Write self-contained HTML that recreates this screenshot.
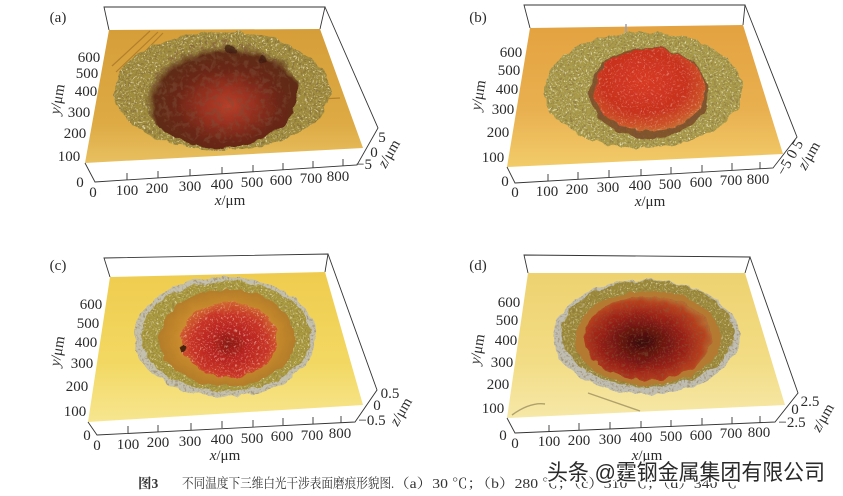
<!DOCTYPE html>
<html><head><meta charset="utf-8"><style>
html,body{margin:0;padding:0;background:#fff;}
svg{display:block;}
.t{font-family:"Liberation Serif","Noto Serif CJK SC",serif;font-size:15px;fill:#2b2b2b;}
.c{font-family:"Liberation Serif","Noto Serif CJK SC",serif;font-size:13.5px;fill:#333;}
.w{font-family:"Liberation Sans","Noto Sans CJK SC",sans-serif;font-size:22px;fill:#2a2a2a;stroke:#fff;stroke-width:3px;paint-order:stroke;}
.ln{stroke:#333;stroke-width:0.9;fill:none;}
</style></head><body>
<svg width="843" height="496" viewBox="0 0 843 496" xmlns="http://www.w3.org/2000/svg">
<defs>
<filter id="rough" x="-10%" y="-10%" width="120%" height="120%">
<feTurbulence type="fractalNoise" baseFrequency="0.09" numOctaves="2" seed="4" result="t"/>
<feDisplacementMap in="SourceGraphic" in2="t" scale="7" xChannelSelector="R" yChannelSelector="G"/>
</filter>
<filter id="spL" x="0" y="0" width="100%" height="100%">
<feTurbulence type="fractalNoise" baseFrequency="0.55" numOctaves="2" seed="7"/>
<feColorMatrix type="matrix" values="0 0 0 0 1  0 0 0 0 0.96  0 0 0 0 0.78  5 0 0 0 -2.8"/>
<feComposite in2="SourceAlpha" operator="in"/>
</filter>
<filter id="spD" x="0" y="0" width="100%" height="100%">
<feTurbulence type="fractalNoise" baseFrequency="0.5" numOctaves="2" seed="11"/>
<feColorMatrix type="matrix" values="0 0 0 0 0.22  0 0 0 0 0.14  0 0 0 0 0.05  0 5 0 0 -2.6"/>
<feComposite in2="SourceAlpha" operator="in"/>
</filter>
<filter id="spD2" x="0" y="0" width="100%" height="100%">
<feTurbulence type="fractalNoise" baseFrequency="0.18" numOctaves="3" seed="21"/>
<feColorMatrix type="matrix" values="0 0 0 0 0.2  0 0 0 0 0.08  0 0 0 0 0.04  0 0 5 0 -2.4"/>
<feComposite in2="SourceAlpha" operator="in"/>
</filter>
<linearGradient id="pa" x1="0" y1="0" x2="0" y2="1"><stop offset="0" stop-color="#d69e38"/><stop offset="0.7" stop-color="#ddaa44"/><stop offset="1" stop-color="#e8c060"/></linearGradient>
<linearGradient id="pb" x1="0" y1="0" x2="0" y2="1"><stop offset="0" stop-color="#e4a240"/><stop offset="0.6" stop-color="#e9b050"/><stop offset="1" stop-color="#f2cc6a"/></linearGradient>
<linearGradient id="pc" x1="0" y1="0" x2="0" y2="1"><stop offset="0" stop-color="#efcc4e"/><stop offset="0.6" stop-color="#f2d862"/><stop offset="1" stop-color="#f7e690"/></linearGradient>
<linearGradient id="pd" x1="0" y1="0" x2="0" y2="1"><stop offset="0" stop-color="#eed270"/><stop offset="0.6" stop-color="#f2dc84"/><stop offset="1" stop-color="#f6e8a8"/></linearGradient>
<radialGradient id="ra" cx="0.55" cy="0.62" r="0.55"><stop offset="0" stop-color="#b8402a"/><stop offset="0.3" stop-color="#983020"/><stop offset="0.6" stop-color="#6a2616"/><stop offset="0.85" stop-color="#5e2c16"/><stop offset="1" stop-color="#7a6a30" stop-opacity="0"/></radialGradient>
<radialGradient id="rb" cx="0.45" cy="0.4" r="0.62"><stop offset="0" stop-color="#d83a24"/><stop offset="0.6" stop-color="#c8321e"/><stop offset="0.88" stop-color="#cc5228"/><stop offset="1" stop-color="#c87034"/></radialGradient>
<radialGradient id="oc" cx="0.5" cy="0.5" r="0.5"><stop offset="0.6" stop-color="#d0902e"/><stop offset="1" stop-color="#b47c2a"/></radialGradient>
<radialGradient id="rc" cx="0.5" cy="0.55" r="0.55"><stop offset="0" stop-color="#8a1a14"/><stop offset="0.35" stop-color="#b82420"/><stop offset="0.72" stop-color="#c83426"/><stop offset="1" stop-color="#d06a30"/></radialGradient>
<radialGradient id="rd" cx="0.45" cy="0.55" r="0.55"><stop offset="0" stop-color="#3a0c0a"/><stop offset="0.3" stop-color="#6a1410"/><stop offset="0.6" stop-color="#9a2018"/><stop offset="0.88" stop-color="#b8401e"/><stop offset="1" stop-color="#b86a30"/></radialGradient>
</defs>

<!-- ================= Panel (a) ================= -->
<polyline class="ln" points="109,30 104,7 325,7 320,29"/>
<polygon points="109,30 320,29 363,148 85,163" fill="url(#pa)"/>
<g stroke="#a8782a" stroke-width="1.2" opacity="0.8">
<line x1="112" y1="66" x2="150" y2="31"/><line x1="116" y1="72" x2="158" y2="32"/><line x1="121" y1="76" x2="163" y2="33"/><line x1="300" y1="100" x2="340" y2="98"/>
</g>
<g filter="url(#rough)">
<ellipse cx="222" cy="91" rx="108" ry="59" fill="#a08c3c"/>
<ellipse cx="222" cy="91" rx="108" ry="59" fill="#fff" filter="url(#spL)" opacity="0.7"/>
<ellipse cx="222" cy="91" rx="108" ry="59" fill="#000" filter="url(#spD)" opacity="0.7"/>
<ellipse cx="220" cy="92" rx="78" ry="56" fill="url(#ra)"/>
<ellipse cx="220" cy="92" rx="70" ry="52" fill="#000" filter="url(#spD2)" opacity="0.45"/>
<ellipse cx="230" cy="50" rx="6" ry="4" fill="#3a1a10" opacity="0.7"/>
<ellipse cx="262" cy="60" rx="5" ry="4" fill="#3a1a10" opacity="0.7"/>
</g>
<polyline class="ln" points="325,7 378,128 357,165 95,182 85,163"/>
<g class="ln"><line x1="127" y1="180" x2="127" y2="173"/><line x1="158" y1="178" x2="158" y2="171"/><line x1="190" y1="176" x2="190" y2="169"/><line x1="222" y1="174" x2="222" y2="167"/><line x1="253" y1="172" x2="253" y2="165"/><line x1="283" y1="170" x2="283" y2="163"/><line x1="313" y1="168" x2="313" y2="161"/><line x1="343" y1="166" x2="343" y2="159"/></g>
<text class="t" x="58" y="22" text-anchor="middle">(a)</text>
<g class="t" text-anchor="middle">
<text x="89" y="62">600</text><text x="87" y="78">500</text><text x="86" y="96">400</text><text x="79" y="117">300</text><text x="75" y="138">200</text><text x="69" y="161">100</text>
<text x="80" y="187">0</text><text x="93" y="197">0</text>
<text x="127" y="195">100</text><text x="157" y="193">200</text><text x="190" y="191">300</text><text x="222" y="189">400</text><text x="252" y="187">500</text><text x="281" y="185">600</text><text x="311" y="183">700</text><text x="338" y="181">800</text>
<text x="230" y="205"><tspan font-style="italic">x</tspan>/μm</text>
<text x="382" y="142">5</text><text x="374" y="157">0</text><text x="364" y="169">−5</text>
<text transform="translate(393,156) rotate(-60)"><tspan font-style="italic">z</tspan>/μm</text>
<text transform="translate(62,100) rotate(-80)"><tspan font-style="italic">y</tspan>/μm</text>
</g>

<!-- ================= Panel (b) ================= -->
<polyline class="ln" points="530,28 524,5 745,5 743,25"/>
<polygon points="530,28 743,25 783,154 507,167" fill="url(#pb)"/>
<line x1="626" y1="24" x2="626" y2="40" stroke="#9aa0b0" stroke-width="1.5"/>
<g filter="url(#rough)">
<ellipse cx="643" cy="90" rx="99" ry="58" fill="#a89a4a"/>
<ellipse cx="643" cy="90" rx="99" ry="58" fill="#fff" filter="url(#spL)" opacity="0.7"/>
<ellipse cx="643" cy="90" rx="99" ry="58" fill="#000" filter="url(#spD)" opacity="0.55"/>
<ellipse cx="649" cy="93" rx="60" ry="45" fill="#7a4a26" opacity="0.85"/>
<ellipse cx="649" cy="93" rx="60" ry="45" fill="#000" filter="url(#spD2)" opacity="0.5"/>
<ellipse cx="650" cy="90" rx="56" ry="41" fill="url(#rb)"/>
<ellipse cx="650" cy="90" rx="56" ry="41" fill="#fff" filter="url(#spL)" opacity="0.3"/>
</g>
<polyline class="ln" points="745,5 797,137 773,168 515,183 507,167"/>
<g class="ln"><line x1="548" y1="181" x2="548" y2="174"/><line x1="578" y1="179" x2="578" y2="172"/><line x1="609" y1="177" x2="609" y2="170"/><line x1="641" y1="176" x2="641" y2="169"/><line x1="671" y1="174" x2="671" y2="167"/><line x1="702" y1="172" x2="702" y2="165"/><line x1="732" y1="170" x2="732" y2="163"/><line x1="760" y1="169" x2="760" y2="162"/></g>
<text class="t" x="478" y="22" text-anchor="middle">(b)</text>
<g class="t" text-anchor="middle">
<text x="511" y="57">600</text><text x="509" y="75">500</text><text x="507" y="94">400</text><text x="503" y="114">300</text><text x="498" y="137">200</text><text x="493" y="162">100</text>
<text x="505" y="186">0</text><text x="515" y="197">0</text>
<text x="547" y="196">100</text><text x="577" y="194">200</text><text x="608" y="192">300</text><text x="640" y="190">400</text><text x="670" y="189">500</text><text x="701" y="187">600</text><text x="731" y="185">700</text><text x="758" y="184">800</text>
<text x="650" y="206"><tspan font-style="italic">x</tspan>/μm</text>
<text transform="translate(794,160) rotate(-60)">−5 0 5</text>
<text transform="translate(813,158) rotate(-60)"><tspan font-style="italic">z</tspan>/μm</text>
<text transform="translate(483,96) rotate(-80)"><tspan font-style="italic">y</tspan>/μm</text>
</g>

<!-- ================= Panel (c) ================= -->
<polyline class="ln" points="110,277 104,258 328,254 325,272"/>
<polygon points="110,277 325,272 363,405 88,422" fill="url(#pc)"/>
<g filter="url(#rough)">
<ellipse cx="225" cy="337" rx="91" ry="60" fill="#c4c0ae"/>
<ellipse cx="225" cy="337" rx="91" ry="60" fill="#000" filter="url(#spD)" opacity="0.45"/>
<ellipse cx="226" cy="336" rx="85" ry="55" fill="#a8983e"/>
<ellipse cx="226" cy="336" rx="85" ry="55" fill="#fff" filter="url(#spL)" opacity="0.6"/>
<ellipse cx="226" cy="336" rx="85" ry="55" fill="#000" filter="url(#spD)" opacity="0.4"/>
<ellipse cx="227" cy="338" rx="68" ry="48" fill="url(#oc)"/>
<ellipse cx="229" cy="340" rx="48" ry="38" fill="url(#rc)"/>
<ellipse cx="229" cy="340" rx="48" ry="38" fill="#fff" filter="url(#spL)" opacity="0.45"/>
<ellipse cx="183" cy="349" rx="3" ry="2.5" fill="#4a2010"/>
</g>
<polyline class="ln" points="328,254 377,390 355,422 97,435 88,422"/>
<g class="ln"><line x1="128" y1="433" x2="128" y2="426"/><line x1="158" y1="432" x2="158" y2="425"/><line x1="191" y1="430" x2="191" y2="423"/><line x1="222" y1="428" x2="222" y2="421"/><line x1="253" y1="427" x2="253" y2="420"/><line x1="283" y1="425" x2="283" y2="418"/><line x1="313" y1="424" x2="313" y2="417"/><line x1="341" y1="423" x2="341" y2="416"/></g>
<text class="t" x="58" y="270" text-anchor="middle">(c)</text>
<g class="t" text-anchor="middle">
<text x="91" y="309">600</text><text x="88" y="328">500</text><text x="86" y="347">400</text><text x="82" y="368">300</text><text x="77" y="391">200</text><text x="75" y="416">100</text>
<text x="87" y="440">0</text><text x="97" y="450">0</text>
<text x="128" y="449">100</text><text x="158" y="447">200</text><text x="190" y="446">300</text><text x="222" y="444">400</text><text x="252" y="443">500</text><text x="282" y="441">600</text><text x="312" y="440">700</text><text x="340" y="438">800</text>
<text x="225" y="460"><tspan font-style="italic">x</tspan>/μm</text>
<text x="390" y="398">0.5</text><text x="377" y="410">0</text><text x="372" y="425">−0.5</text>
<text transform="translate(405,414) rotate(-60)"><tspan font-style="italic">z</tspan>/μm</text>
<text transform="translate(62,352) rotate(-80)"><tspan font-style="italic">y</tspan>/μm</text>
</g>

<!-- ================= Panel (d) ================= -->
<polyline class="ln" points="528,273 524,255 750,257 745,273"/>
<polygon points="528,273 745,273 785,405 507,418" fill="url(#pd)"/>
<g stroke="#a09060" stroke-width="1.4" fill="none" opacity="0.8">
<line x1="588" y1="393" x2="640" y2="411"/><path d="M512,415 Q530,402 545,404"/>
</g>
<g filter="url(#rough)">
<ellipse cx="646" cy="337" rx="93" ry="57" fill="#c0beb2"/>
<ellipse cx="646" cy="337" rx="93" ry="57" fill="#000" filter="url(#spD)" opacity="0.45"/>
<ellipse cx="648" cy="334" rx="86" ry="53" fill="#9c8a3a"/>
<ellipse cx="648" cy="334" rx="86" ry="53" fill="#fff" filter="url(#spL)" opacity="0.55"/>
<ellipse cx="648" cy="334" rx="86" ry="53" fill="#000" filter="url(#spD)" opacity="0.4"/>
<ellipse cx="648" cy="338" rx="73" ry="47" fill="#b47a32"/>
<ellipse cx="648" cy="338" rx="64" ry="42" fill="url(#rd)"/>
<ellipse cx="648" cy="338" rx="64" ry="42" fill="#000" filter="url(#spD)" opacity="0.4"/>
</g>
<polyline class="ln" points="750,257 798,393 775,422 515,433 507,418"/>
<g class="ln"><line x1="549" y1="432" x2="549" y2="425"/><line x1="579" y1="430" x2="579" y2="423"/><line x1="610" y1="429" x2="610" y2="422"/><line x1="641" y1="428" x2="641" y2="421"/><line x1="671" y1="427" x2="671" y2="420"/><line x1="702" y1="425" x2="702" y2="418"/><line x1="732" y1="424" x2="732" y2="417"/><line x1="760" y1="423" x2="760" y2="416"/></g>
<text class="t" x="478" y="270" text-anchor="middle">(d)</text>
<g class="t" text-anchor="middle">
<text x="509" y="307">600</text><text x="507" y="325">500</text><text x="506" y="345">400</text><text x="502" y="367">300</text><text x="498" y="389">200</text><text x="493" y="413">100</text>
<text x="503" y="440">0</text><text x="515" y="448">0</text>
<text x="549" y="446">100</text><text x="579" y="445">200</text><text x="610" y="444">300</text><text x="641" y="442">400</text><text x="671" y="441">500</text><text x="701" y="440">600</text><text x="731" y="438">700</text><text x="759" y="437">800</text>
<text x="647" y="460"><tspan font-style="italic">x</tspan>/μm</text>
<text x="810" y="406">2.5</text><text x="795" y="414">0</text><text x="792" y="427">−2.5</text>
<text transform="translate(827,420) rotate(-60)"><tspan font-style="italic">z</tspan>/μm</text>
<text transform="translate(482,350) rotate(-80)"><tspan font-style="italic">y</tspan>/μm</text>
</g>

<!-- ================= Caption ================= -->
<text class="c" x="138" y="488" font-weight="bold" font-size="14">图3</text>
<text class="c" x="182" y="488" font-size="14" textLength="212" lengthAdjust="spacingAndGlyphs">不同温度下三维白光干涉表面磨痕形貌图.</text>
<text class="c" x="394" y="488" font-size="14" textLength="343" lengthAdjust="spacingAndGlyphs">（a）30 ℃；（b）280 ℃；（c）310 ℃；（d）340 ℃</text>
<text class="w" x="547" y="480" textLength="278" lengthAdjust="spacingAndGlyphs">头条 @霆钢金属集团有限公司</text>
</svg>
</body></html>
